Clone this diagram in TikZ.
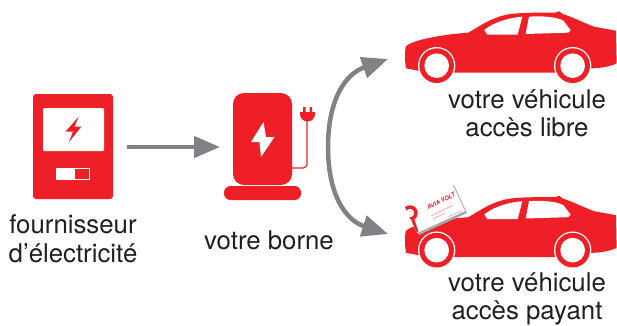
\documentclass[tikz,border=0pt]{standalone}
\usepackage{fontspec}
\setmainfont{TeX Gyre Heros}
\usetikzlibrary{arrows.meta}
\definecolor{voltred}{HTML}{EF1F27}
\definecolor{flowgray}{HTML}{808285}
\definecolor{inkdark}{HTML}{231F20}
\tikzset{
	redfill/.style={fill=voltred,draw=none},
	whitefill/.style={fill=white,draw=none},
	flow/.style={draw=flowgray,line width=4.5pt,-{Triangle[length=26pt,width=21pt]}},
	voltlabel/.style={text=inkdark,font=\fontsize{25.8}{28.5}\selectfont,align=center,inner sep=0pt,anchor=base},
}
% car drawn in the units of a 3x crop
\newcommand{\voltcar}{
	\fill[voltred] (48,205) .. controls (44,180) and (44,160) .. (47,140)
	.. controls (60,122) and (150,104) .. (235,98)
	.. controls (270,78) and (300,55) .. (350,44)
	.. controls (385,37) and (450,38) .. (495,38)
	-- (508,34) -- (518,42)
	.. controls (550,52) and (580,68) .. (612,80)
	-- (678,92) -- (680,190)
	.. controls (660,200) and (630,205) .. (600,205)
	-- (590,218) -- (100,218) -- (85,212) -- cycle;
	\foreach \x in {140,548}{
		\fill[white] (\x,197) circle (56);
		\fill[voltred] (\x,197) circle (52);
		\fill[white] (\x,197) circle (37);
	}
	\fill[white] (283,90) .. controls (300,75) and (340,55) .. (397,50)
	-- (383,104) -- (292,104) -- cycle;
	\fill[white] (417,50) .. controls (450,47) and (500,50) .. (520,62)
	-- (542,90) -- (535,98) -- (407,102) -- cycle;
}
\begin{document}
\begin{tikzpicture}[x=1pt,y=-1pt,line join=round]
	\useasboundingbox[fill=white] (0,0) rectangle (617,325);
	\path (127,147) coordinate (supplyOut)
	(220,147) coordinate (borneIn)
	(328,147) coordinate (fork)
	(388,59) coordinate (carFree)
	(388,234) coordinate (carPaid);
	% fournisseur
	\node[redfill,rounded corners=3pt,minimum width=80pt,minimum height=105pt,inner sep=0pt] (supplier) at (73,146.5) {};
	\node[whitefill,rounded corners=1pt,minimum width=61pt,minimum height=43pt,inner sep=0pt] (screen) at (73.5,129.5) {};
	\fill[voltred] (78.5,117) -- (65.5,131.5) -- (73,131.5) -- (69,142) -- (81.5,126.5) -- (74.5,126.5) -- cycle;
	\fill[white] (56,168) rectangle (90,180);
	\fill[voltred] (75,169) rectangle (89,179);
	\node[voltlabel] (supplierText) at (73,262) {fournisseur\\d’électricité};
	% borne
	\node[redfill,rounded corners=11pt,minimum width=59pt,minimum height=92pt,inner sep=0pt] (borne) at (262.5,139) {};
	\node[redfill,rounded corners=6.5pt,minimum width=77pt,minimum height=14pt,inner sep=0pt] (borneBase) at (262.5,193) {};
	\fill[white] (263.5,122) -- (251,142) -- (259.5,142) -- (261,157) -- (274.5,137) -- (266,137) -- cycle;
	\draw[voltred,line width=1.2pt,rounded corners=4pt] (borne.east|-0,168) -- (307,168) -- (307,120);
	\fill[voltred] (300,112) -- (315,112) -- (315,114) arc (0:180:7.5) -- cycle;
	\fill[voltred] (303,107) rectangle (305.5,113) (309.5,107) rectangle (312,113);
	\node[voltlabel] (borneText) at (269,249) {votre borne};
	% voitures
	\begin{scope}[shift={(390,0)},scale=0.3333]
		\voltcar
	\end{scope}
	\begin{scope}[shift={(390,184.5)},scale=0.3333]
		\voltcar
	\end{scope}
	\node[voltlabel] (freeText) at (527,136.5) {votre véhicule\\accès libre};
	\node[voltlabel] (paidText) at (527,319.5) {votre véhicule\\accès payant};
	% carte
	\fill[flowgray!70] (407,209) -- (454,185) -- (467,213) -- (419,235) -- cycle;
	\fill[white] (405,207) -- (452,183) -- (465,211) -- (417,233) -- cycle;
	\begin{scope}
		\clip (405,207) -- (452,183) -- (465,211) -- (417,233) -- cycle;
		\draw[voltred,line width=3.5pt] (410,213) circle (6);
		\draw[voltred,line width=3pt] (413,220) -- (417,232);
	\end{scope}
	\node[text=voltred,font=\fontsize{6}{6}\selectfont\bfseries\itshape,rotate=27,inner sep=0pt] (cardName) at (441,201) {AVIA VOLT};
	\draw[voltred!50,line width=.5pt] (431,216) -- (453,205) (433,219) -- (445,213) (448,217) -- (461,211);
	% fleches
	\draw[flow] (supplyOut) -- (borneIn);
	\draw[flow] (fork) .. controls (328,100) and (345,74) .. (carFree);
	\draw[flow] (fork) .. controls (328,194) and (345,220) .. (carPaid);
\end{tikzpicture}
\end{document}
